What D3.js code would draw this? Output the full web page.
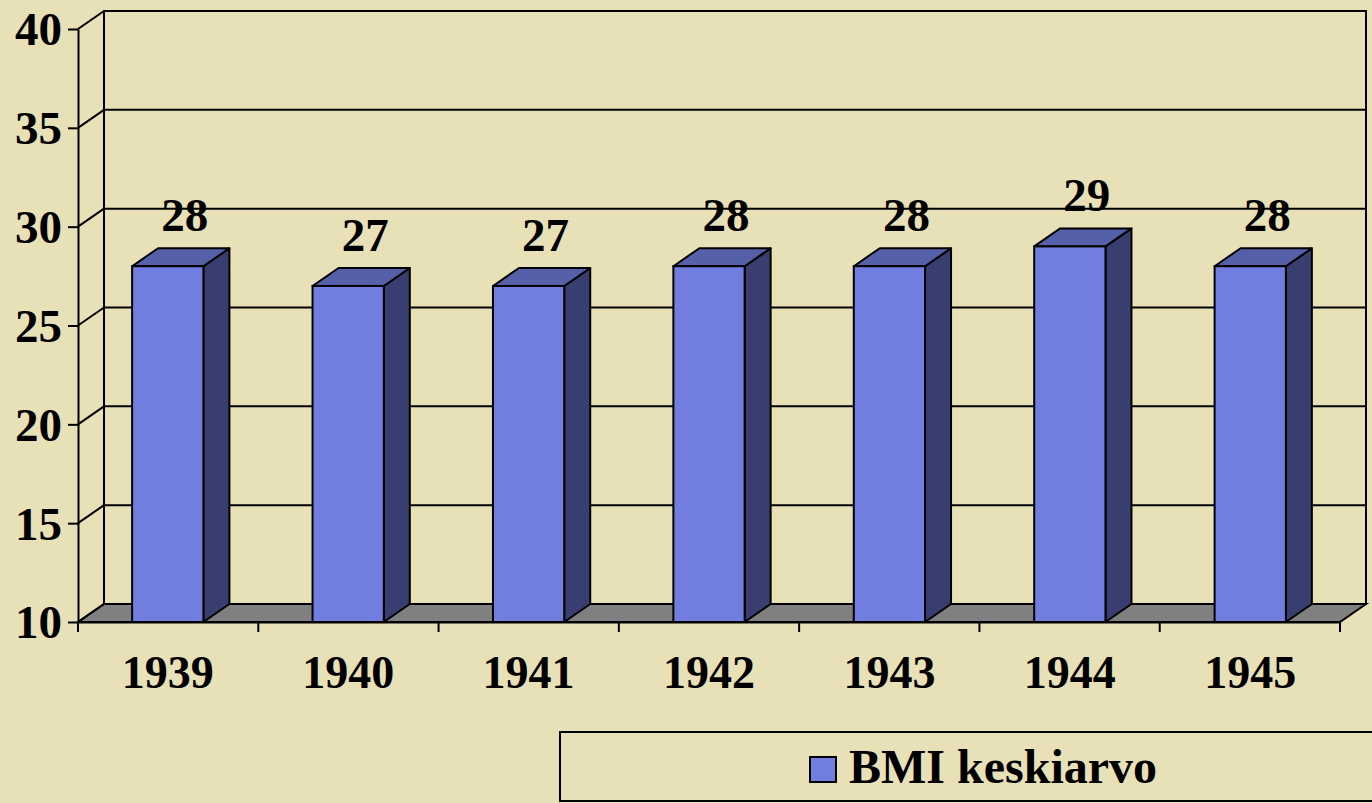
<!DOCTYPE html>
<html>
<head>
<meta charset="utf-8">
<script src="https://cdn.jsdelivr.net/npm/d3@7"></script>
<style>
  html, body { margin: 0; padding: 0; background: #e8e1b8; }
  svg { display: block; }
  text { font-family: "Liberation Serif", "Times New Roman", serif; font-weight: bold; fill: #000; }
</style>
</head>
<body>
<div id="chart"></div>
<script>
/* data */
const years = ["1939", "1940", "1941", "1942", "1943", "1944", "1945"];
const bmiValues = [28, 27, 27, 28, 28, 29, 28];
const yTicks = [10, 15, 20, 25, 30, 35, 40];
const seriesName = "BMI keskiarvo";

/* svg size */
const width = 1372;
const height = 803;

/* 3d depth offset */
const dx = 26, dy = -18;

const svg = d3.select("#chart").append("svg")
    .attr("width", width)
    .attr("height", height);

/* scales for the front plane */
const x = d3.scaleBand()
    .domain(years)
    .range([78, 1340])
    .paddingInner(0.605)
    .paddingOuter(0.3);

const y = d3.scaleLinear()
    .domain([10, 40])
    .range([622, 29]);

const x0 = 78, x1 = 1340;

function poly(points) {
    return points.map(p => p.join(",")).join(" ");
}

/* back wall */
svg.append("rect")
    .attr("x", x0 + dx).attr("y", y(40) + dy)
    .attr("width", x1 - x0).attr("height", y(10) - y(40))
    .attr("fill", "#e8e1b8")
    .attr("stroke", "#000").attr("stroke-width", 2);

/* floor */
svg.append("polygon")
    .attr("points", poly([[x0, y(10)], [x1, y(10)], [x1 + dx, y(10) + dy], [x0 + dx, y(10) + dy]]))
    .attr("fill", "#808080")
    .attr("stroke", "#000").attr("stroke-width", 2);

/* gridlines: back wall + left wall diagonal */
const grid = svg.append("g").attr("stroke", "#000").attr("stroke-width", 2).attr("fill", "none");
yTicks.filter(d => d > 10).forEach(d => {
    grid.append("line")
        .attr("x1", x0 + dx).attr("x2", x1 + dx)
        .attr("y1", y(d) + dy).attr("y2", y(d) + dy);
});
yTicks.forEach(d => {
    grid.append("line")
        .attr("x1", x0).attr("x2", x0 + dx)
        .attr("y1", y(d)).attr("y2", y(d) + dy);
});
grid.append("line")
    .attr("x1", x0 + dx).attr("x2", x0 + dx)
    .attr("y1", y(40) + dy).attr("y2", y(10) + dy);

/* y axis */
const yAxis = d3.axisLeft(y)
    .tickValues(yTicks)
    .tickSize(10)
    .tickSizeOuter(0)
    .tickPadding(6);

const yG = svg.append("g")
    .attr("transform", `translate(${x0},0)`)
    .call(yAxis);
yG.select(".domain").attr("stroke", "#000").attr("stroke-width", 2);
yG.selectAll(".tick line").attr("stroke", "#000").attr("stroke-width", 2);
yG.selectAll(".tick text")
    .attr("font-family", null)
    .attr("font-size", null)
    .style("font-size", "47px")
    .attr("dy", "0.34em");

/* x axis */
const xAxis = d3.axisBottom(x)
    .tickSize(0)
    .tickPadding(0)
    .tickSizeOuter(0);

const xG = svg.append("g")
    .attr("transform", `translate(0,${y(10)})`)
    .call(xAxis);
xG.select(".domain").attr("stroke", "#000").attr("stroke-width", 2);
xG.selectAll(".tick text")
    .attr("font-family", null)
    .attr("font-size", null)
    .style("font-size", "46px")
    .attr("y", 66)
    .attr("dy", 0);

/* category separator ticks */
d3.range(years.length + 1).forEach(i => {
    const tx = x0 + i * (x1 - x0) / years.length;
    svg.append("line")
        .attr("x1", tx).attr("x2", tx)
        .attr("y1", y(10)).attr("y2", y(10) + 10)
        .attr("stroke", "#000").attr("stroke-width", 2);
});

/* bars */
const bars = svg.append("g").selectAll("g")
    .data(years.map((d, i) => ({ year: d, value: bmiValues[i] })))
    .enter().append("g");

const bw = x.bandwidth();

bars.append("polygon") // side
    .attr("points", d => {
        const bx = x(d.year) + bw, top = y(d.value), bot = y(10);
        return poly([[bx, bot], [bx + dx, bot + dy], [bx + dx, top + dy], [bx, top]]);
    })
    .attr("fill", "#393e70")
    .attr("stroke", "#000").attr("stroke-width", 2).attr("stroke-linejoin", "round");

bars.append("polygon") // top
    .attr("points", d => {
        const bx = x(d.year), top = y(d.value);
        return poly([[bx, top], [bx + bw, top], [bx + bw + dx, top + dy], [bx + dx, top + dy]]);
    })
    .attr("fill", "#5560a8")
    .attr("stroke", "#000").attr("stroke-width", 2).attr("stroke-linejoin", "round");

bars.append("rect") // front
    .attr("x", d => x(d.year))
    .attr("y", d => y(d.value))
    .attr("width", bw)
    .attr("height", d => y(10) - y(d.value))
    .attr("fill", "#727de0")
    .attr("stroke", "#000").attr("stroke-width", 2);

/* data labels */
bars.append("text")
    .attr("x", d => x(d.year) + bw / 2 + dx / 2 + 4)
    .attr("y", d => y(d.value) + dy - 17)
    .attr("text-anchor", "middle")
    .style("font-size", "47px")
    .text(d => d.value);

/* legend */
const legend = svg.append("g");
legend.append("rect")
    .attr("x", 560).attr("y", 732)
    .attr("width", 840).attr("height", 69)
    .attr("fill", "#e8e1b8")
    .attr("stroke", "#000").attr("stroke-width", 2);
legend.append("rect")
    .attr("x", 810).attr("y", 757)
    .attr("width", 26).attr("height", 25)
    .attr("fill", "#727de0")
    .attr("stroke", "#000").attr("stroke-width", 2);
legend.append("text")
    .attr("x", 849).attr("y", 783)
    .style("font-size", "48px")
    .text(seriesName);
</script>
</body>
</html>
